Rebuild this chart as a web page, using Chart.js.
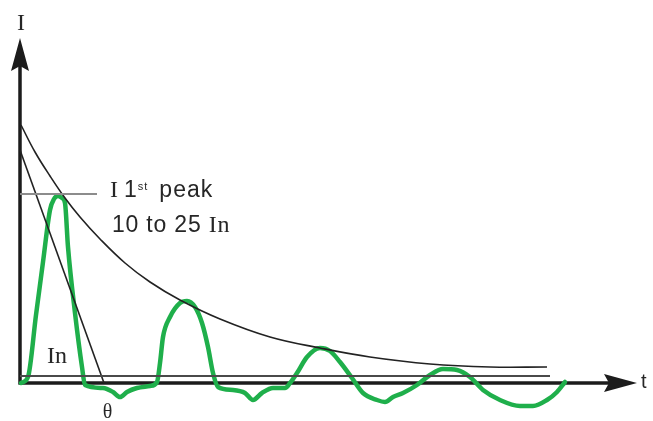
<!DOCTYPE html>
<html>
<head>
<meta charset="utf-8">
<title>Inrush current envelope</title>
<script src="https://cdn.jsdelivr.net/npm/chart.js@4"></script>
<style>
  html, body { margin: 0; padding: 0; background: #fff; }
  #chart { display: block; }
</style>
</head>
<body>
<canvas id="chart" width="653" height="421"></canvas>
<script>
// Values (x = time, y = current, same units on both)
const currentT = [1, 8, 16, 23, 30, 34, 38, 42, 45, 48, 55, 62, 65, 83, 93, 100, 107, 117, 130, 137,
  140, 143, 150, 160, 167, 175, 182, 188, 193, 198, 213, 225, 233, 242, 253, 265, 270, 277, 287, 300,
  310, 320, 332, 343, 357, 365, 373, 383, 397, 410, 423, 437, 450, 463, 480, 500, 513, 527, 537, 545];
const currentI = [0, 6, 68, 121, 173, 184, 187, 185, 180, 136, 70, 16, -2, -5, -9, -14, -9, -5, -3, 1,
  20, 46, 66, 80, 82, 76, 60, 36, 10, -4, -7, -10, -17, -10, -5, -5, 0, 10, 26, 35,
  32, 21, 5, -10, -17, -19, -14, -10, -2, 8, 14, 13, 6, -7, -17, -23, -23, -17, -9, 1];

const envelopeT = [1, 15, 30, 45, 60, 80, 105, 130, 160, 200, 250, 300, 350, 410, 470, 527];
const envelopeI = [258, 231, 207, 185, 166, 144, 120, 101, 83, 64, 46, 35, 26, 19, 16, 16];

const tangentT = [0, 84];
const tangentI = [233, 0];

const firstPeakT = [0, 77];
const firstPeakI = [189, 189];

const nominalT = [0, 530];
const nominalI = [7, 7];

const axisEndT = 617;
const axisEndI = 345;

const SANS = "'Liberation Sans', Arial, sans-serif";
const SERIF = "'Liberation Serif', 'Times New Roman', serif";

// text labels, anchored in data units
const notes = [
  { t: 1, i: 353, align: 'center', runs: [{ text: 'I', font: '24px ' + SERIF }] },
  { t: 90, i: 186, align: 'left', spacing: 1, runs: [
    { text: 'I', font: '24px ' + SERIF, gap: 5 },
    { text: '1', font: '23px ' + SANS },
    { text: 'st', font: '11px ' + SANS, dy: -7, gap: 11 },
    { text: 'peak', font: '23px ' + SANS }
  ] },
  { t: 92, i: 151, align: 'left', spacing: 0.8, runs: [
    { text: '10 to 25 ', font: '23px ' + SANS },
    { text: 'In', font: '24px ' + SERIF }
  ] },
  { t: 27, i: 20, align: 'left', runs: [{ text: 'In', font: '24px ' + SERIF }] },
  { t: 87.5, i: -35, align: 'center', runs: [{ text: 'θ', font: '20px ' + SERIF }] },
  { t: 621, i: -5, align: 'left', runs: [{ text: 't', font: '20px ' + SANS }] }
];

const toPoints = (ts, is) => ts.map((t, k) => ({ x: t, y: is[k] }));

function arrowHead(ctx, x, y, dx, dy) {
  // dx,dy: unit direction of the arrow
  const len = 33, half = 9, notch = 5;
  const px = -dy, py = dx;
  ctx.beginPath();
  ctx.moveTo(x, y);
  ctx.lineTo(x - dx * len + px * half, y - dy * len + py * half);
  ctx.lineTo(x - dx * (len - notch), y - dy * (len - notch));
  ctx.lineTo(x - dx * len - px * half, y - dy * len - py * half);
  ctx.closePath();
  ctx.fill();
}

const axesPlugin = {
  id: 'axesArrows',
  beforeDatasetsDraw(chart) {
    const { ctx, scales: { x, y } } = chart;
    const ox = x.getPixelForValue(0), oy = y.getPixelForValue(0);
    const ex = x.getPixelForValue(axisEndT), ey = y.getPixelForValue(axisEndI);
    ctx.save();
    ctx.strokeStyle = '#1c1c1c';
    ctx.fillStyle = '#1c1c1c';
    ctx.lineWidth = 3.5;
    ctx.beginPath();
    ctx.moveTo(ox, oy + 1.5);
    ctx.lineTo(ox, ey + 20);
    ctx.moveTo(ox - 1.5, oy);
    ctx.lineTo(ex - 20, oy);
    ctx.stroke();
    arrowHead(ctx, ox, ey, 0, -1);
    arrowHead(ctx, ex, oy, 1, 0);
    ctx.restore();
  }
};

const notesPlugin = {
  id: 'notes',
  afterDatasetsDraw(chart) {
    const { ctx, scales: { x, y } } = chart;
    ctx.save();
    ctx.fillStyle = '#262626';
    ctx.textBaseline = 'alphabetic';
    notes.forEach(n => {
      ctx.letterSpacing = (n.spacing || 0) + 'px';
      let total = 0;
      n.runs.forEach(r => {
        ctx.font = r.font;
        total += ctx.measureText(r.text).width + (r.gap || 0);
      });
      let cx = x.getPixelForValue(n.t);
      if (n.align === 'center') cx -= total / 2;
      const cy = y.getPixelForValue(n.i);
      n.runs.forEach(r => {
        ctx.font = r.font;
        ctx.fillText(r.text, cx, cy + (r.dy || 0));
        cx += ctx.measureText(r.text).width + (r.gap || 0);
      });
    });
    ctx.restore();
  }
};

const thin = (data, color, width) => ({
  data, borderColor: color, borderWidth: width, pointRadius: 0, fill: false, tension: 0
});

new Chart(document.getElementById('chart'), {
  type: 'line',
  data: {
    datasets: [
      thin(toPoints(nominalT, nominalI), '#4a4a4a', 2),
      thin(toPoints(firstPeakT, firstPeakI), '#8c8c8c', 2),
      thin(toPoints(tangentT, tangentI), '#222', 1.6),
      Object.assign(thin(toPoints(envelopeT, envelopeI), '#222', 1.6), { tension: 0.4 }),
      {
        label: 'Inrush current',
        data: toPoints(currentT, currentI),
        borderColor: '#1faf4b',
        borderWidth: 4.5,
        pointRadius: 0,
        fill: false,
        cubicInterpolationMode: 'monotone',
        borderCapStyle: 'round',
        borderJoinStyle: 'round'
      }
    ]
  },
  options: {
    responsive: false,
    animation: false,
    devicePixelRatio: 1,
    layout: { padding: 0 },
    scales: {
      x: { type: 'linear', min: -20, max: 633, display: false },
      y: { type: 'linear', min: -38, max: 383, display: false }
    },
    plugins: {
      legend: { display: false },
      tooltip: { enabled: false }
    }
  },
  plugins: [axesPlugin, notesPlugin]
});
</script>
</body>
</html>
